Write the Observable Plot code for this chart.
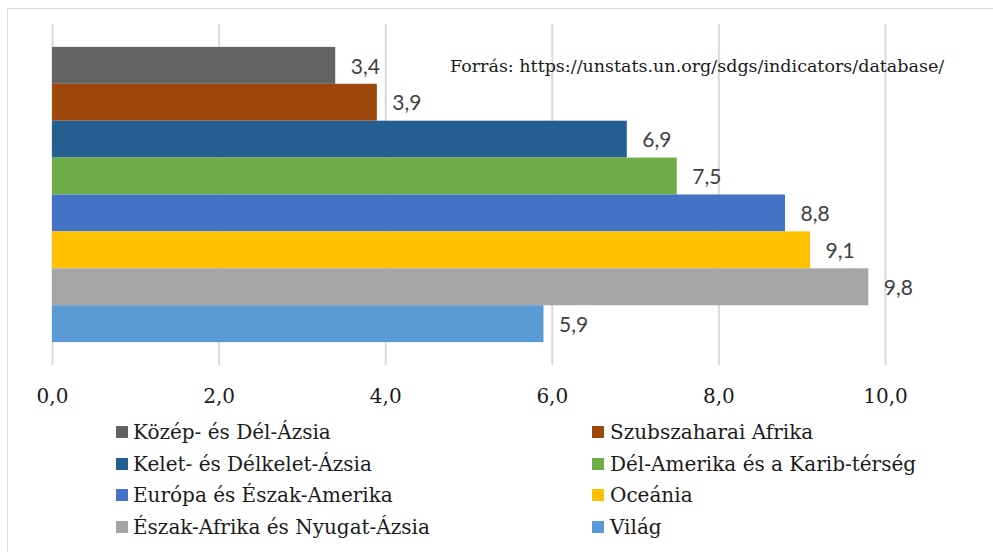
<!DOCTYPE html>
<html>
<head>
<meta charset="utf-8">
<script src="https://cdn.jsdelivr.net/npm/d3@7"></script>
<script src="https://cdn.jsdelivr.net/npm/@observablehq/plot@0.6"></script>
<style>
  html, body { margin: 0; padding: 0; background: #fff; width: 993px; height: 552px; overflow: hidden; }
  #frame { position: absolute; left: 7px; top: 8px; width: 1100px; height: 700px; border: 1.5px solid #d9d9d9; box-sizing: border-box; }
  #chart { position: absolute; left: 0; top: 0; }
  #source { position: absolute; left: 450px; top: 56px; font-family: "DejaVu Serif", serif; font-size: 17.5px; color: #1a1a1a; white-space: nowrap; }
  .leg { position: absolute; font-family: "DejaVu Serif", serif; font-size: 20px; color: #1a1a1a; white-space: nowrap; line-height: 24px; }
  .sw { position: absolute; width: 12px; height: 12px; }
</style>
</head>
<body>
<div id="frame"></div>
<div id="chart"></div>
<div id="source">Forrás: https://unstats.un.org/sdgs/indicators/database/</div>
<div id="legend"></div>
<script>
const categories = [
  "Közép- és Dél-Ázsia",
  "Szubszaharai Afrika",
  "Kelet- és Délkelet-Ázsia",
  "Dél-Amerika és a Karib-térség",
  "Európa és Észak-Amerika",
  "Oceánia",
  "Észak-Afrika és Nyugat-Ázsia",
  "Világ"
];
const values = [3.4, 3.9, 6.9, 7.5, 8.8, 9.1, 9.8, 5.9];
const colors = ["#636363", "#9E480E", "#255E91", "#70AD47", "#4472C4", "#FFC000", "#A5A5A5", "#5B9BD5"];
const xTicks = [0, 2, 4, 6, 8, 10];

const data = categories.map((c, i) => ({category: c, value: values[i]}));
const fmt = v => v.toFixed(1).replace(".", ",");

const chart = Plot.plot({
  width: 993,
  height: 420,
  marginLeft: 52,
  marginRight: 108,
  marginTop: 24,
  marginBottom: 55,
  style: {background: "transparent", overflow: "visible"},
  x: {domain: [0, 10], ticks: xTicks, tickFormat: fmt, label: null},
  y: {domain: categories, paddingInner: 0, paddingOuter: 0.62, round: false, axis: null},
  color: {domain: categories, range: colors},
  marks: [
    Plot.gridX(xTicks, {stroke: "#d9d9d9", strokeOpacity: 1, strokeWidth: 2}),
    Plot.barX(data, {y: "category", x: "value", fill: "category"}),
    Plot.text(data, {y: "category", x: "value", text: d => fmt(d.value), textAnchor: "start", dx: 15, dy: 1,
      fill: "#404040", fontSize: 21, fontFamily: "Lato, sans-serif"}),
    Plot.axisX({ticks: xTicks, tickFormat: fmt, tickSize: 0, tickPadding: 23, fontSize: 20, label: null,
      fontFamily: "DejaVu Serif, serif", fill: "#1a1a1a"})
  ]
});
document.getElementById("chart").append(chart);

const legend = document.getElementById("legend");
const rowsY = [432, 463.5, 495, 526.5];
categories.forEach((c, i) => {
  const col = i % 2, row = Math.floor(i / 2);
  const sx = col === 0 ? 116 : 592;
  const tx = col === 0 ? 133 : 610;
  const cy = rowsY[row];
  const sw = document.createElement("div");
  sw.className = "sw";
  sw.style.left = sx + "px";
  sw.style.top = (cy - 6) + "px";
  sw.style.background = colors[i];
  legend.append(sw);
  const t = document.createElement("div");
  t.className = "leg";
  t.style.left = tx + "px";
  t.style.top = (cy - 12) + "px";
  t.textContent = c;
  legend.append(t);
});
</script>
</body>
</html>
